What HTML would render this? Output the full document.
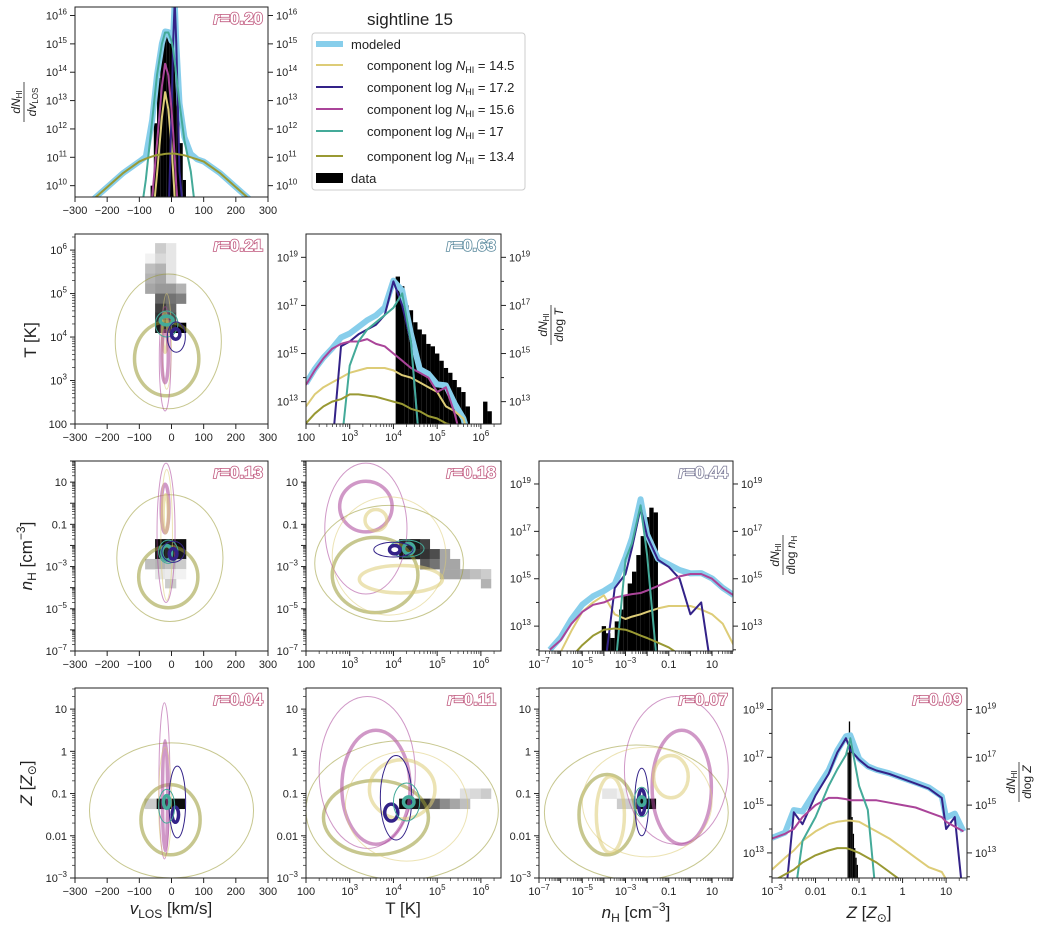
<!DOCTYPE html>
<html><head><meta charset="utf-8">
<style>
html,body{margin:0;padding:0;background:#fff;}
svg{display:block;font-family:"Liberation Sans","DejaVu Sans",sans-serif;}
</style></head>
<body>
<svg id="fig" width="1039" height="932" viewBox="0 0 1039 932" xmlns="http://www.w3.org/2000/svg">
<text x="410" y="25" font-size="17" text-anchor="middle" fill="#222">sightline 15</text>
<g>
<rect x="312" y="33" width="213" height="157" rx="3" fill="#fff" stroke="#ccc" stroke-width="1"/>
<g><line x1="316" y1="44" x2="343" y2="44" stroke="#87ceeb" stroke-width="6"/><text x="351" y="49" font-size="13" fill="#222">modeled</text></g>
<g><line x1="316" y1="65" x2="343" y2="65" stroke="#ddcc77" stroke-width="2"/><text x="367" y="70" font-size="13" fill="#222">component log <tspan font-style="italic">N</tspan><tspan font-size="9" dy="3">HI</tspan><tspan dy="-3"> = 14.5</tspan></text></g>
<g><line x1="316" y1="87" x2="343" y2="87" stroke="#332288" stroke-width="2"/><text x="367" y="92" font-size="13" fill="#222">component log <tspan font-style="italic">N</tspan><tspan font-size="9" dy="3">HI</tspan><tspan dy="-3"> = 17.2</tspan></text></g>
<g><line x1="316" y1="109" x2="343" y2="109" stroke="#aa4499" stroke-width="2"/><text x="367" y="114" font-size="13" fill="#222">component log <tspan font-style="italic">N</tspan><tspan font-size="9" dy="3">HI</tspan><tspan dy="-3"> = 15.6</tspan></text></g>
<g><line x1="316" y1="131" x2="343" y2="131" stroke="#44aa99" stroke-width="2"/><text x="367" y="136" font-size="13" fill="#222">component log <tspan font-style="italic">N</tspan><tspan font-size="9" dy="3">HI</tspan><tspan dy="-3"> = 17</tspan></text></g>
<g><line x1="316" y1="156" x2="343" y2="156" stroke="#999933" stroke-width="2"/><text x="367" y="161" font-size="13" fill="#222">component log <tspan font-style="italic">N</tspan><tspan font-size="9" dy="3">HI</tspan><tspan dy="-3"> = 13.4</tspan></text></g>
<g><rect x="316" y="173" width="27" height="10" fill="#000"/><text x="351" y="183" font-size="13" fill="#222">data</text></g>
</g>
<g>
<text transform="translate(36,340) rotate(-90)" font-size="17" text-anchor="middle" fill="#222">T [K]</text>
<text transform="translate(32,556) rotate(-90)" font-size="17" text-anchor="middle" fill="#222"><tspan font-style="italic">n</tspan><tspan font-size="12" dy="4">H</tspan><tspan dy="-4"> [cm</tspan><tspan font-size="12" dy="-7">−3</tspan><tspan dy="7">]</tspan></text>
<text transform="translate(32,783) rotate(-90)" font-size="17" text-anchor="middle" fill="#222"><tspan font-style="italic">Z</tspan> [<tspan font-style="italic">Z</tspan><tspan font-size="12" dy="4">⊙</tspan><tspan dy="-4">]</tspan></text>
<text x="171" y="914" font-size="17" text-anchor="middle" fill="#222"><tspan font-style="italic">v</tspan><tspan font-size="12" dy="4">LOS</tspan><tspan dy="-4"> [km/s]</tspan></text>
<text x="403" y="914" font-size="17" text-anchor="middle" fill="#222">T [K]</text>
<text x="636" y="918" font-size="17" text-anchor="middle" fill="#222"><tspan font-style="italic">n</tspan><tspan font-size="12" dy="4">H</tspan><tspan dy="-4"> [cm</tspan><tspan font-size="12" dy="-7">−3</tspan><tspan dy="7">]</tspan></text>
<text x="869" y="918" font-size="17" text-anchor="middle" fill="#222"><tspan font-style="italic">Z</tspan> [<tspan font-style="italic">Z</tspan><tspan font-size="12" dy="4">⊙</tspan><tspan dy="-4">]</tspan></text>
</g>
</svg>
<script>
// ---------- data ----------
const vGrid=[-250,-200,-150,-100,-80,-60,-45,-30,-20,-10,0,5,10,15,25,40,60,80,100,150,200,250];
const vOlive=[9.45,9.95,10.45,10.85,10.95,11.03,11.08,11.1,11.12,11.13,11.13,11.13,11.13,11.12,11.1,11.07,11.0,10.93,10.85,10.45,9.95,9.45];
const vTeal=[0,0,0,0,10.2,12.3,13.9,15.0,15.4,15.4,15.1,14.8,14.4,13.9,12.9,11.6,10.5,0,0,0,0,0];
const vMag=[0,0,0,0,0,9.6,11.5,13.5,14.3,13.9,12.7,11.9,11.0,10.0,0,0,0,0,0,0,0,0];
const vYel=[0,0,0,0,0,0,10.4,12.4,13.3,12.7,11.4,10.5,9.6,0,0,0,0,0,0,0,0,0];
const vInd=[0,0,0,0,0,0,0,0,0,0,12.5,15.0,16.5,15.0,10.5,0,0,0,0,0,0,0];
const vHistX=[-60,-50,-40,-30,-20,-10,0,10,20,30,40];
const vHistY=[10.0,12.2,13.8,14.8,15.3,15.5,15.2,14.5,13.0,11.5,10.2];

const tGrid=[2.0,2.2,2.4,2.6,2.8,3.0,3.2,3.4,3.6,3.8,4.0,4.2,4.4,4.6,4.8,5.0,5.2,5.4,5.6,5.8,6.0,6.2,6.4];
const tInd=[0,0,0,0,15.3,15.5,15.8,16.0,16.2,16.6,18.0,17.0,15.5,0,0,0,0,0,0,0,0,0,0];
const tTeal=[0,0,0,0,0,14.5,15.5,16.0,16.3,16.6,16.9,17.5,15.5,0,0,0,0,0,0,0,0,0,0];
const tMag=[13.7,14.3,14.8,15.2,15.4,15.5,15.5,15.6,15.4,15.3,15.0,14.7,14.4,14.2,14.0,13.4,13.6,12.5,0,0,0,0,0];
const tYel=[12.8,13.3,13.6,13.8,14.0,14.2,14.3,14.4,14.4,14.4,14.3,14.1,14.0,13.8,13.6,13.4,12.8,12.6,12.3,0,0,0,0];
const tOlive=[12.1,12.5,12.8,13.0,13.1,13.3,13.3,13.25,13.2,13.1,13.0,12.9,12.7,12.6,12.4,12.3,12.1,12.0,0,0,0,0,0];
const tHistX=[4.1,4.2,4.3,4.4,4.5,4.6,4.7,4.8,4.9,5.0,5.1,5.2,5.3,5.4,5.5,5.6,5.7,6.1,6.2];
const tHistY=[18.2,17.8,17.0,16.8,16.3,16.0,15.8,15.4,15.3,15.0,14.7,14.4,14.2,13.9,13.6,13.4,12.8,13.0,12.6];

const nGrid=[-6.5,-6,-5.5,-5,-4.5,-4,-3.5,-3,-2.7,-2.3,-2,-1.5,-1,-0.5,0,0.5,1,1.5,2];
const nMag=[12,12.4,13.1,13.6,13.9,14.0,14.2,14.3,14.35,14.4,14.5,14.7,14.9,15.1,15.2,15.2,15.0,14.6,14.3];
const nYel=[0,11.9,12.8,13.6,14.0,14.3,13.5,13.3,13.4,13.5,13.6,13.75,13.85,13.85,13.85,13.7,13.5,13.1,12.2];
const nOlive=[0,0,11.7,12.2,12.6,12.85,12.9,12.85,12.75,12.6,12.5,12.3,12.1,11.8,0,0,0,0,0];
const nInd=[0,0,0,0,0,0,14.6,15.2,16.3,18.0,16.8,15.8,15.5,15.0,13.5,14.0,0,0,0];
const nTeal=[0,0,0,0,0,0,0,15.8,16.5,18.1,16.0,0,0,0,0,0,0,0,0];
const nHistX=[-4.0,-3.8,-3.6,-3.4,-3.2,-3.0,-2.8,-2.6,-2.4,-2.2,-2.0,-1.8,-1.6];
const nHistY=[13.0,12.7,12.5,13.2,13.7,14.3,14.8,15.3,16.0,16.8,17.6,18.0,17.8];

const zGrid=[-3,-2.7,-2.5,-2.3,-2,-1.7,-1.5,-1.3,-1.2,-1,-0.8,-0.6,-0.3,0,0.3,0.6,0.9,1.0,1.2,1.4];
const zInd=[0,0,14.7,14.2,15.4,16.3,17.2,17.8,17.3,16.9,16.6,16.45,16.3,16.1,15.9,15.7,15.3,14.0,14.5,0];
const zTeal=[0,0,0,13.5,14.5,15.8,16.5,17.1,17.8,15.8,14.8,0,0,0,0,0,0,0,0,0];
const zMag=[13.6,13.8,14.0,14.5,15.0,15.3,15.3,15.25,15.2,15.2,15.2,15.2,15.1,15.0,14.9,14.7,14.5,14.3,14.1,13.9];
const zYel=[12.3,12.8,13.1,13.5,13.9,14.2,14.3,14.35,14.35,14.3,14.1,13.9,13.6,13.2,12.8,12.4,12.2,11.9,0,0];
const zOlive=[11.8,12.1,12.3,12.6,12.9,13.1,13.2,13.2,13.15,13.0,12.8,12.6,12.2,11.8,0,0,0,0,0,0];
const zHistX=[-1.25,-1.22,-1.19,-1.16,-1.13,-1.10,-1.07,-1.04];
const zHistY=[17.2,18.5,17.5,14.5,13.8,13.2,12.8,12.5];

// 2D histogram cells: edges + darkness matrices
const vtXe=[-82,-51,-17,14,45]; const vtYe=[6.16,5.92,5.69,5.46,5.23,5.0,4.77,4.56,4.33,4.1];
const vtD=[[0,.2,.1,0],[.05,.15,.1,0],[.25,.3,.1,0],[.3,.35,.15,0],[.35,.4,.4,.3],[0,.6,.55,.5],[0,.75,.6,0],[0,.8,.7,0],[0,.9,.85,1]];
const vnXe=[-82,-51,-20,14,45]; const vnYe=[-1.7,-2.17,-2.64,-3.12,-3.59,-4.02];
const vnD=[[0,.95,.9,.95],[0,.9,.85,.9],[.25,.3,.25,.2],[0,.1,.08,.05],[0,0,.2,0]];
const tnXe=[4.13,4.38,4.61,4.83,5.06,5.29,5.52,5.75,6.0,6.23]; const tnYe=vnYe;
const tnD=[[.85,.9,.75,0,0,0,0,0,0],[.9,.85,.8,.7,.35,0,0,0,0],[0,0,.65,.55,.35,.35,0,0,0],[0,0,0,0,.35,.35,.3,.25,.2],[0,0,0,0,0,0,0,0,.3]];
const vzXe=[-84,-46,-2,41]; const vzYe=[-1.12,-1.36]; const vzD=[[.2,.95,.95]];
const tzXe=[4.13,4.38,4.61,4.83,5.06,5.29,5.52,5.75,6.0,6.23]; const tzYe=[-0.88,-1.12,-1.36];
const tzD=[[0,0,0,0,0,0,.12,.15,.2],[.95,.9,.8,.6,.45,.35,.25,0,0]];
const nzXe=[-4.08,-3.4,-2.95,-2.5,-2.0,-1.6]; const nzYe=[-0.88,-1.12,-1.36];
const nzD=[[.1,.05,0,0,0],[0,.2,.2,.95,.95]];

// contours: [cx, cy, rx, ry, color, thick]
const vtC=[[-10,3.9,165,1.55,'o',0],[-15,3.5,100,.85,'o',1],[-15,3.9,15,1.1,'y',0],[-20,4.1,8,.45,'y',1],[-20,3.5,18,1.2,'m',0],[-20,3.55,10,.6,'m',1],[-15,4.3,35,.3,'t',0],[-15,4.38,20,.1,'t',1],[15,4.0,28,.35,'i',0],[13,4.07,13,.12,'i',1]];
const vnC=[[-5,-2.6,165,3.0,'o',0],[-10,-3.5,92,1.45,'o',1],[-17,-1.4,28,3.3,'m',0],[-20,-0.25,12,1.15,'m',1],[-15,-1.5,18,3.1,'y',0],[-18,-0.5,8,.9,'y',1],[-10,-2.3,30,.55,'t',0],[-15,-2.35,15,.35,'t',1],[5,-2.3,35,.5,'i',0],[5,-2.4,12,.25,'i',1]];
const tnC=[[3.9,-2.85,1.7,2.75,'o',0],[3.58,-3.4,.98,1.78,'o',1],[3.37,-1.2,.94,3.1,'m',0],[3.37,-0.16,.6,1.2,'m',1],[3.9,-2.5,1.3,2.8,'y',0],[4.17,-3.6,.95,.65,'y',1],[3.6,-0.8,.25,.5,'y',1],[4.3,-2.15,.4,.4,'t',0],[4.35,-2.15,.12,.25,'t',1],[4.0,-2.2,.45,.35,'i',0],[4.03,-2.2,.12,.2,'i',1]];
const vzC=[[0,-1.4,255,1.6,'o',0],[-3,-1.62,92,.83,'o',1],[-22,-0.7,17,1.85,'m',0],[-20,-1.05,8,1.3,'m',1],[-20,-1.2,20,1.3,'y',0],[18,-1.2,26,.85,'i',0],[12,-1.5,10,.18,'i',1],[-15,-1.3,25,.4,'t',0],[-15,-1.2,10,.15,'t',1]];
const tzC=[[4.2,-1.4,2.2,1.65,'o',0],[3.6,-1.57,1.2,.88,'o',1],[3.4,-0.5,1.1,1.8,'m',0],[3.6,-0.85,.78,1.35,'m',1],[4.3,-1.3,1.4,1.3,'y',0],[4.2,-0.9,.75,.7,'y',1],[4.06,-1.1,.36,1.0,'i',0],[3.95,-1.45,.15,.2,'i',1],[4.3,-1.2,.3,.45,'t',0],[4.35,-1.2,.12,.12,'t',1]];
const nzC=[[-2.5,-1.45,4.25,1.6,'o',0],[-3.85,-1.5,1.3,.95,'o',1],[-0.65,-0.45,2.4,1.75,'m',0],[-0.4,-0.85,1.37,1.35,'m',1],[-2.0,-1.2,3.0,1.3,'y',0],[-3.7,-1.5,.65,.9,'y',1],[-0.9,-0.6,.8,.5,'y',1],[-2.25,-1.2,.32,.8,'i',0],[-2.25,-1.2,.15,.3,'i',1],[-2.25,-1.2,.35,.35,'t',0],[-2.25,-1.18,.15,.1,'t',1]];

const rVals=['0.20','0.21','0.63','0.13','0.18','0.44','0.04','0.11','0.07','0.09'];
// ---------- rendering ----------
const NS='http://www.w3.org/2000/svg';
const svg=document.getElementById('fig');
const COL={o:'#999933',y:'#ddcc77',m:'#aa4499',t:'#44aa99',i:'#332288'};
const cols=[[75,268],[306,501],[539,733],[772,967]];
const rows=[[7,197],[234,424],[461,651],[688,878]];
const xR={v:[-300,300],T:[2,6.46],n:[-7,1.97],Z:[-3,1.48]};
const yR={T:[2,6.37],n:[-7,2.0],Z:[-3,1.5]};
const dR={v:[9.6,16.3],T:[12.07,19.97],n:[11.95,19.97],Z:[11.95,19.9]};
function mk(tag,attrs,parent){const e=document.createElementNS(NS,tag);for(const k in attrs)e.setAttribute(k,attrs[k]);(parent||svg).appendChild(e);return e;}
function scaleFn(d0,d1,p0,p1){return v=>p0+(v-d0)/(d1-d0)*(p1-p0);}
let clipId=0;
function makePanel(c,r,xr,yr,name){
  const [x0,x1]=cols[c],[y0,y1]=rows[r];
  const g=mk('g',{});
  
  
  const id='clip'+(clipId++);
  const cp=mk('clipPath',{id:id},g);mk('rect',{x:x0,y:y0,width:x1-x0,height:y1-y0},cp);
  const inner=mk('g',{'clip-path':'url(#'+id+')'},g);
  return {g,inner,x0,x1,y0,y1,sx:scaleFn(xr[0],xr[1],x0,x1),sy:scaleFn(yr[0],yr[1],y1,y0),xr,yr};
}
function fmtLog(k,kind){
  if(kind==='T'&&k===2)return ['100',null];
  if(kind==='n'){if(k===1)return['10',null];if(k===-1)return['0.1',null];}
  if(kind==='Z'){if(k===-2)return['0.01',null];if(k===-1)return['0.1',null];if(k===0)return['1',null];if(k===1)return['10',null];}
  return ['10',String(k).replace('-','−')];
}
function label(parent,x,y,k,kind,anchor){
  const t=mk('text',{x:x,y:y,'font-size':11,fill:'#222','text-anchor':anchor},parent);
  
  
  const [b,e]=fmtLog(k,kind);
  const s1=mk('tspan',{},t);s1.textContent=b;
  if(e!==null){const s2=mk('tspan',{'font-size':8,dy:-5},t);s2.textContent=e;}
  return t;
}
function xTicks(p,kind){
  const g=mk('g',{},p.g);
  
  
  if(kind==='v'){
    for(let v=-300;v<=300;v+=100){const X=p.sx(v);mk('line',{x1:X,x2:X,y1:p.y1,y2:p.y1+5,stroke:'#222'},g);
      const t=mk('text',{x:X,y:p.y1+17,'font-size':11,fill:'#222','text-anchor':'middle'},g);t.textContent=String(v).replace('-','−');}
    return;
  }
  const lab=kind==='T'?[2,3,4,5,6]:kind==='n'?[-7,-5,-3,-1,1]:[-3,-2,-1,0,1];
  for(let k=Math.floor(p.xr[0]);k<=p.xr[1];k++){
    const X=p.sx(k);if(X<p.x0-0.5)continue;
    mk('line',{x1:X,x2:X,y1:p.y1,y2:p.y1+5,stroke:'#222'},g);
    for(let m=2;m<10;m++){const xm=p.sx(k+Math.log10(m));if(xm<=p.x1)mk('line',{x1:xm,x2:xm,y1:p.y1,y2:p.y1+3,stroke:'#222','stroke-width':.7},g);}
    if(lab.includes(k))label(g,X,p.y1+17,k,kind,'middle');
  }
}
function yTicks(p,kind,side,labStep){
  const g=mk('g',{},p.g);
  
  
  const X=side==='l'?p.x0:p.x1,d=side==='l'?-1:1;
  const lab=kind==='T'?[2,3,4,5,6]:kind==='n'?[-7,-5,-3,-1,1]:kind==='Z'?[-3,-2,-1,0,1]:null;
  for(let k=Math.ceil(p.yr[0]);k<=p.yr[1];k++){
    const Y=p.sy(k);
    const major=lab?true:(labStep===1||((k-13)%2===0));
    mk('line',{x1:X,x2:X+d*(major?5:3),y1:Y,y2:Y,stroke:'#222'},g);
    if(lab){for(let m=2;m<10;m++){const ym=p.sy(k+Math.log10(m));if(ym>=p.y0)mk('line',{x1:X,x2:X+d*3,y1:ym,y2:ym,stroke:'#222','stroke-width':.7},g);}}
    const show=lab?lab.includes(k):major;
    if(show){const kk=lab?kind:'D';label(g,X+d*8,Y+4,k,kk,side==='l'?'end':'start');}
  }
}
function frame(p){const f=mk('rect',{x:p.x0,y:p.y0,width:p.x1-p.x0,height:p.y1-p.y0,fill:'none',stroke:'#222','stroke-width':1},p.g);
  }
function rLabel(p,val,color){
  const t=mk('text',{x:p.x1-5,y:p.y0+17,'font-size':17,'font-weight':'bold','text-anchor':'end',fill:'#fff',stroke:color,'stroke-width':1.6,'paint-order':'stroke'},p.g);
  
  
  t.innerHTML='<tspan font-style="italic">r</tspan>='+val;
}
function curve(p,xs,ys,color,w,name){
  const low=p.yr[0]-1;
  const pts=xs.map((x,i)=>p.sx(x).toFixed(1)+','+p.sy(ys[i]>0?ys[i]:low).toFixed(1)).join(' ');
  const l=mk('polyline',{points:pts,fill:'none',stroke:color,'stroke-width':w,'stroke-linejoin':'round'},p.inner);
  
  
}
function modeled(xs,comps){return xs.map((x,i)=>{let s=0;comps.forEach(c=>{if(c[i]>0)s+=Math.pow(10,c[i]);});return s>0?Math.log10(s):0;});}
function hist(p,hx,hy,bw){
  hx.forEach((x,i)=>{const a=p.sx(x-bw/2),b=p.sx(x+bw/2),Y=p.sy(hy[i]);
    const r=mk('rect',{x:a,y:Y,width:Math.max(b-a,0.8),height:Math.max(p.y1-Y,0),fill:'#000'},p.inner);
    
    });
}
function diag(c,kind,xs,comps,hx,hy,bw,rv,rc,name){
  const p=makePanel(c,c,xR[kind],dR[kind],name);
  hist(p,hx,hy,bw);
  curve(p,xs,modeled(xs,[comps.y,comps.i,comps.m,comps.t,comps.o]),'#87ceeb',6,'modeled-curve');
  ['y','i','m','t','o'].forEach(k=>curve(p,xs,comps[k],COL[k],2,'component-'+k));
  frame(p);xTicks(p,kind);
  yTicks(p,'D','l',kind==='v'?1:2);yTicks(p,'D','r',kind==='v'?1:2);
  rLabel(p,rv,rc);return p;
}
function cells(p,xe,ye,D){
  D.forEach((row,j)=>row.forEach((d,i)=>{if(d<=0)return;
    const a=p.sx(xe[i]),b=p.sx(xe[i+1]),y1=p.sy(ye[j]),y2=p.sy(ye[j+1]);
    const g=Math.round(255*(1-d));
    const r=mk('rect',{x:Math.min(a,b),y:Math.min(y1,y2),width:Math.abs(b-a)+0.3,height:Math.abs(y2-y1)+0.3,fill:'rgb('+g+','+g+','+g+')'},p.inner);
    
    }));
}
function contours(p,C){
  C.forEach(c=>{const [cx,cy,rx,ry,k,th]=c;
    const op=(k==='i'||k==='t')?1:0.55;
    const e=mk('ellipse',{cx:p.sx(cx),cy:p.sy(cy),rx:Math.abs(p.sx(cx+rx)-p.sx(cx)),ry:Math.abs(p.sy(cy+ry)-p.sy(cy)),fill:'none',stroke:COL[k],'stroke-width':th?3.5:1,'stroke-opacity':op},p.inner);
    
    });
}
function off(c,r,xk,yk,xe,ye,D,C,rv,rc,name){
  const p=makePanel(c,r,xR[xk],yR[yk],name);
  cells(p,xe,ye,D);contours(p,C);frame(p);xTicks(p,xk);yTicks(p,yk,'l');rLabel(p,rv,rc);return p;
}
const pink='#c0587e';
diag(0,'v',vGrid,{o:vOlive,t:vTeal,m:vMag,y:vYel,i:vInd},vHistX,vHistY,10,rVals[0],pink,'panel-v-diag');
off(0,1,'v','T',vtXe,vtYe,vtD,vtC,rVals[1],pink,'panel-v-T');
diag(1,'T',tGrid,{o:tOlive,t:tTeal,m:tMag,y:tYel,i:tInd},tHistX,tHistY,0.1,rVals[2],'#5b8a9e','panel-T-diag');
off(0,2,'v','n',vnXe,vnYe,vnD,vnC,rVals[3],pink,'panel-v-nH');
off(1,2,'T','n',tnXe,tnYe,tnD,tnC,rVals[4],pink,'panel-T-nH');
diag(2,'n',nGrid,{o:nOlive,t:nTeal,m:nMag,y:nYel,i:nInd},nHistX,nHistY,0.2,rVals[5],'#7c7b98','panel-nH-diag');
off(0,3,'v','Z',vzXe,vzYe,vzD,vzC,rVals[6],pink,'panel-v-Z');
off(1,3,'T','Z',tzXe,tzYe,tzD,tzC,rVals[7],pink,'panel-T-Z');
off(2,3,'n','Z',nzXe,nzYe,nzD,nzC,rVals[8],pink,'panel-nH-Z');
diag(3,'Z',zGrid,{o:zOlive,t:zTeal,m:zMag,y:zYel,i:zInd},zHistX,zHistY,0.03,rVals[9],pink,'panel-Z-diag');
// diagonal y-axis titles (fractions)
function frac(x,y,num,den,name){
  const g=mk('g',{transform:'translate('+x+','+y+') rotate(-90)'});
  
  
  const a=mk('text',{x:0,y:-4,'font-size':12,'text-anchor':'middle',fill:'#222'},g);a.innerHTML=num;
  mk('line',{x1:-20,x2:20,y1:0,y2:0,stroke:'#222','stroke-width':.8},g);
  const b=mk('text',{x:0,y:12,'font-size':12,'text-anchor':'middle',fill:'#222'},g);b.innerHTML=den;
}
const NUM='<tspan font-style="italic">dN</tspan><tspan font-size="8" dy="2">HI</tspan>';
frac(24,102,NUM,'<tspan font-style="italic">dv</tspan><tspan font-size="8" dy="2">LOS</tspan>','diag-y-title-v');
frac(551,325,NUM,'<tspan font-style="italic">d</tspan>log <tspan font-style="italic">T</tspan>','diag-y-title-T');
frac(783,555,NUM,'<tspan font-style="italic">d</tspan>log <tspan font-style="italic">n</tspan><tspan font-size="8" dy="2">H</tspan>','diag-y-title-nH');
frac(1019,782,NUM,'<tspan font-style="italic">d</tspan>log <tspan font-style="italic">Z</tspan>','diag-y-title-Z');
</script>
</body></html>
